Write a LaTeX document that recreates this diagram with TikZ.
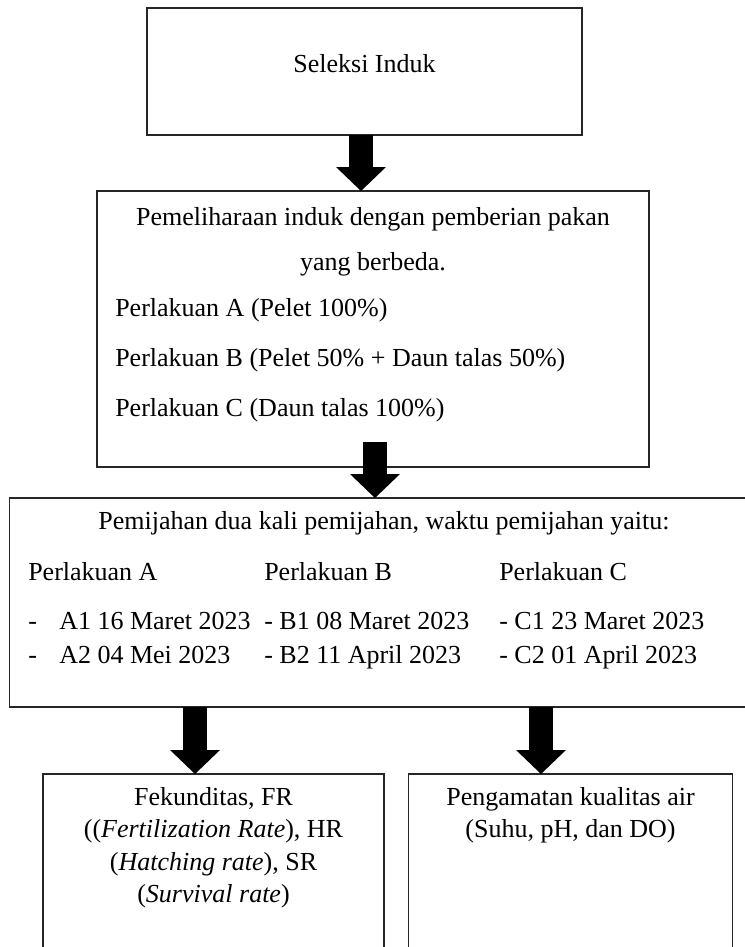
\documentclass[tikz,border=0pt]{standalone}
\usepackage{fontspec}
\setmainfont{Liberation Serif}
\usetikzlibrary{arrows.meta,calc}
\begin{document}
\begin{tikzpicture}[x=0.75pt,y=-0.75pt,
  box/.style={draw=black!85, line width=1.1pt, rectangle, inner sep=0pt, outer sep=0pt, anchor=north west},
  txt/.style={font=\fontsize{19.5pt}{23pt}\selectfont, inner sep=0pt, anchor=base},
  txtw/.style={txt, anchor=base west},
  blk/.style={draw=black, line width=18pt, -{Triangle[width=37.5pt,length=18pt,line width=0pt]}}]
\useasboundingbox (0,0) rectangle (745,947);
\fill[white] (0,0) rectangle (745,947);
\clip (0,0) rectangle (745,947);
% boxes
\node[box, minimum width=326.25pt, minimum height=95.25pt] (box1) at (147,8) {};
\node[box, minimum width=414pt, minimum height=207pt] (box2) at (97,191) {};
\node[box, minimum width=567pt, minimum height=156.75pt] (box3) at (9.5,498) {};
\node[box, minimum width=255.75pt, minimum height=140pt] (box4) at (43,774) {};
\node[box, minimum width=243pt, minimum height=140pt] (box5) at (408.5,774) {};
% arrows
\coordinate (a1) at (361,0);
\coordinate (a2) at (375,442);
\coordinate (a3l) at (195,0);
\coordinate (a3r) at (541,0);
\draw[blk] (a1 |- box1.south) -- (a1 |- box2.north);
\draw[blk] (a2) -- (a2 |- box3.north);
\draw[blk] (a3l |- box3.south) -- (a3l |- box4.north);
\draw[blk] (a3r |- box3.south) -- (a3r |- box5.north);
% texts box1
\node[txt] (t1) at (364.5,72) {Seleksi Induk};
% box2
\node[txt] (t2a) at (373,225) {Pemeliharaan induk dengan pemberian pakan};
\node[txt] (t2b) at (373,270) {yang berbeda.};
\node[txtw] (t2c) at (115,316) {Perlakuan A (Pelet 100\%)};
\node[txtw] (t2d) at (115,366) {Perlakuan B (Pelet 50\% + Daun talas 50\%)};
\node[txtw] (t2e) at (115,416) {Perlakuan C (Daun talas 100\%)};
% box3
\node[txt] (t3a) at (384,529) {Pemijahan dua kali pemijahan, waktu pemijahan yaitu:};
\node[txtw] (t3pa) at (28,580) {Perlakuan A};
\node[txtw] (t3pb) at (264,580) {Perlakuan B};
\node[txtw] (t3pc) at (499,580) {Perlakuan C};
\node[txtw] (d1a) at (28,629) {-};
\node[txtw] (a1t) at (59,629) {A1 16 Maret 2023};
\node[txtw] (d2a) at (28,663) {-};
\node[txtw] (a2t) at (59,663) {A2 04 Mei 2023};
\node[txtw] (b1t) at (264,629) {- B1 08 Maret 2023};
\node[txtw] (b2t) at (264,663) {- B2 11 April 2023};
\node[txtw] (c1t) at (499,629) {- C1 23 Maret 2023};
\node[txtw] (c2t) at (499,663) {- C2 01 April 2023};
% box4
\node[txt] (t4a) at (213.5,805) {Fekunditas, FR};
\node[txt] (t4b) at (213.5,837) {((\textit{Fertilization Rate}), HR};
\node[txt] (t4c) at (213.5,870) {(\textit{Hatching rate}), SR};
\node[txt] (t4d) at (213.5,902) {(\textit{Survival rate})};
% box5
\node[txt] (t5a) at (570.5,805) {Pengamatan kualitas air};
\node[txt] (t5b) at (570.5,837) {(Suhu, pH, dan DO)};
\end{tikzpicture}
\end{document}
